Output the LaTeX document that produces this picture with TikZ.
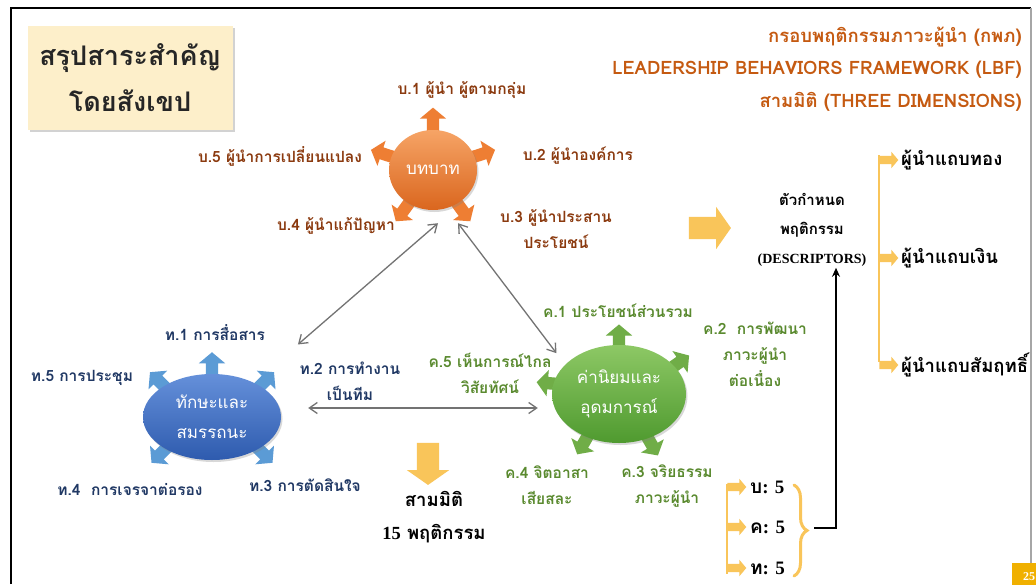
\documentclass[tikz,border=0pt]{standalone}
\usepackage{fontspec}
\setmainfont{Liberation Serif}
\newfontfamily\thai[Script=Thai]{Loma}
\newfontfamily\lat{Liberation Serif}
\usetikzlibrary{positioning,arrows.meta,shapes.geometric,shapes.arrows,shadows,backgrounds,calc,decorations.pathreplacing}
\definecolor{creamc}{HTML}{FDEFCA}
\definecolor{hdrc}{HTML}{C55A11}
\definecolor{orgT}{HTML}{F6A466}
\definecolor{orgB}{HTML}{DA661E}
\definecolor{orgS}{HTML}{EE7E33}
\definecolor{orgL}{HTML}{8B3A0F}
\definecolor{bluT}{HTML}{6590DA}
\definecolor{bluB}{HTML}{2E5BAE}
\definecolor{bluS}{HTML}{5B9BD5}
\definecolor{bluL}{HTML}{203864}
\definecolor{grnT}{HTML}{8DC865}
\definecolor{grnB}{HTML}{4F9A2F}
\definecolor{grnS}{HTML}{70AD47}
\definecolor{grnL}{HTML}{5A8A2F}
\definecolor{goldc}{HTML}{F9C55A}
\definecolor{pagec}{HTML}{F0B000}

\begin{document}
\begin{tikzpicture}[
  x=1pt, y=-1pt,
  font=\thai\bfseries,
  titlebox/.style={fill=creamc, align=center, minimum width=205pt, minimum height=104pt,
                   text=black!85, font=\thai\bfseries\fontsize{27}{46}\selectfont,
                   drop shadow={opacity=0.35, shadow xshift=2pt, shadow yshift=-2pt}},
  hdr/.style={anchor=east, text=hdrc, inner sep=0pt, font=\thai\bfseries\fontsize{18.5}{20}\selectfont},
  bubble/.style={ellipse, text=white, align=center, inner sep=0pt,
                 font=\thai\fontsize{17}{30}\selectfont,
                 drop shadow={opacity=0.3, shadow xshift=1.5pt, shadow yshift=-2pt}},
  spoke/.style={single arrow, single arrow head extend=7pt, single arrow tip angle=100,
                inner xsep=0pt, inner ysep=6pt, minimum height=30pt, anchor=tail},
  lbl/.style={align=center, inner sep=1pt, font=\thai\bfseries\fontsize{15.5}{26}\selectfont},
  link/.style={{Straight Barb[length=8pt,width=11pt]}-{Straight Barb[length=8pt,width=11pt]},
               draw=black!55, line width=1.3pt},
  goldarrow/.style={single arrow, fill=goldc, inner xsep=0pt, inner ysep=11pt,
                    single arrow head extend=10pt, single arrow tip angle=110, minimum height=42pt},
  tinyarrow/.style={single arrow, fill=goldc, inner xsep=0pt, inner ysep=4pt,
                    single arrow head extend=4pt, single arrow tip angle=100, minimum height=19pt},
  goldline/.style={draw=goldc, line width=2pt},
  blk/.style={text=black, inner sep=1pt, font=\thai\bfseries\fontsize{18.5}{29}\selectfont},
  cnt/.style={blk, anchor=west, font=\thai\bfseries\fontsize{19}{29}\selectfont},
  feed/.style={-{Stealth[length=9pt,width=8pt]}, draw=black, line width=1.6pt},
]
\useasboundingbox (0,0) rectangle (1036,584);
\begin{scope}[on background layer]
  \fill[white] (0,0) rectangle (1036,584);
\end{scope}

% ---- slide frame ----
\draw[black, line width=2.5pt] (11,584) -- (11,8) -- (1031,8);
\draw[black!35, line width=1.5pt] (1031,8) -- (1031,584);

% ---- title and header ----
\node[titlebox] (ttl) at (130,78) {สรุปสาระสำคัญ\\โดยสังเขป};
\node[hdr] (h1) at (1022,37)  {กรอบพฤติกรรมภาวะผู้นำ (กพภ)};
\node[hdr] (h2) at (1022,70)  {LEADERSHIP BEHAVIORS FRAMEWORK (LBF)};
\node[hdr] (h3) at (1022,102) {สามมิติ (THREE DIMENSIONS)};

% ---- three dimension bubbles ----
\node[bubble, minimum width=88pt, minimum height=80pt, top color=orgT, bottom color=orgB]
      (rl) at (433,170) {บทบาท};
\node[bubble, minimum width=138pt, minimum height=86pt, top color=bluT, bottom color=bluB]
      (sk) at (212,417) {ทักษะและ\\สมรรถนะ};
\node[bubble, minimum width=134pt, minimum height=98pt, top color=grnT, bottom color=grnB]
      (gv) at (619,394) {ค่านิยมและ\\อุดมการณ์};

\begin{scope}[on background layer]
  \foreach \a in {18,90,162,234,306}
    \node[spoke, fill=orgS, rotate=\a] at ($(rl.center)!0.8!(rl.\a)$) {};
  \foreach \a/\r in {90/90,150/135,30/45,212/225,328/315}
    \node[spoke, fill=bluS, rotate=\r] at ($(sk.center)!0.8!(sk.\a)$) {};
  \foreach \a/\r in {90/90,170/175,25/35,232/240,304/300}
    \node[spoke, fill=grnS, rotate=\r] at ($(gv.center)!0.8!(gv.\a)$) {};
\end{scope}

% ---- behaviour labels ----
\node[lbl, text=orgL] (b1) at (462,90)  {บ.1 ผู้นำ ผู้ตามกลุ่ม};
\node[lbl, text=orgL] (b5) at (280,156) {บ.5 ผู้นำการเปลี่ยนแปลง};
\node[lbl, text=orgL] (b2) at (578,156) {บ.2 ผู้นำองค์การ};
\node[lbl, text=orgL] (b4) at (336,226) {บ.4 ผู้นำแก้ปัญหา};
\node[lbl, text=orgL] (b3) at (556,229) {บ.3 ผู้นำประสาน\\ประโยชน์};

\node[lbl, text=bluL] (t1) at (215,333) {ท.1 การสื่อสาร};
\node[lbl, text=bluL] (t5) at (82,378)  {ท.5 การประชุม};
\node[lbl, text=bluL] (t2) at (350,381) {ท.2 การทำงาน\\เป็นทีม};
\node[lbl, text=bluL] (t4) at (130,490) {ท.4\ \ การเจรจาต่อรอง};
\node[lbl, text=bluL] (t3) at (305,485) {ท.3 การตัดสินใจ};

\node[lbl, text=grnL] (k1) at (618,311) {ค.1 ประโยชน์ส่วนรวม};
\node[lbl, text=grnL] (k2) at (755,354) {ค.2\ \ การพัฒนา\\ภาวะผู้นำ\\ต่อเนื่อง};
\node[lbl, text=grnL] (k5) at (490,373) {ค.5 เห็นการณ์ไกล\\วิสัยทัศน์};
\node[lbl, text=grnL] (k4) at (547,485) {ค.4 จิตอาสา\\เสียสละ};
\node[lbl, text=grnL] (k3) at (667,486) {ค.3 จริยธรรม\\ภาวะผู้นำ};

% ---- links between the dimensions ----
\draw[link] ([xshift=37pt,yshift=42pt]sk.north east) -- ([xshift=5pt,yshift=-13pt]rl.south);
\draw[link] ([xshift=25pt,yshift=-13pt]rl.south) -- ([xshift=-15pt,yshift=6pt]gv.north west);
\draw[link] ([xshift=27pt,yshift=9pt]sk.east) -- ([xshift=-14pt,yshift=-14pt]gv.west);

% ---- summary: three dimensions, 15 behaviours ----
\node[goldarrow, rotate=-90] (dn) at (428,460) {};
\node[blk, align=center, font=\thai\bfseries\fontsize{18.5}{33}\selectfont] (sum) at (434,517)
      {สามมิติ\\{\lat 15} พฤติกรรม};

% ---- descriptors and leader levels ----
\node[goldarrow, minimum width=40pt] (ra) at (706,228) {};
\node[blk, align=center, font=\thai\bfseries\fontsize{15}{29}\selectfont] (desc) at (812,230)
      {ตัวกำหนด\\พฤติกรรม\\{\lat\fontsize{14}{29}\selectfont (DESCRIPTORS)}};

\node[tinyarrow] (sa1) at (887,160) {};
\node[tinyarrow] (sa2) at (887,258) {};
\node[tinyarrow] (sa3) at (887,365) {};
\draw[goldline] ([yshift=5pt]sa1.tail) -- ([yshift=3pt]sa3.tail);
\node[blk, anchor=west] (lv1) at (900,160) {ผู้นำแถบทอง};
\node[blk, anchor=west] (lv2) at (900,258) {ผู้นำแถบเงิน};
\node[blk, anchor=west] (lv3) at (900,365) {ผู้นำแถบสัมฤทธิ์};

% ---- counts per dimension ----
\node[tinyarrow] (ca1) at (735,487) {};
\node[tinyarrow] (ca2) at (735,527) {};
\node[tinyarrow] (ca3) at (735,568) {};
\draw[goldline] ([yshift=3pt]ca1.tail) -- ([yshift=-6pt]ca3.tail);
\node[cnt] (n1) at (749,487) {บ{\lat : 5}};
\node[cnt] (n2) at (749,527) {ค{\lat : 5}};
\node[cnt] (n3) at (749,568) {ท{\lat : 5}};

\coordinate (brtop) at (794,485);
\coordinate (brbot) at (794,576);
\coordinate (brtip) at (814,528);
\draw[draw=goldc, line width=3pt, line cap=round, decorate,
      decoration={brace, amplitude=13pt}] (brtop) -- (brbot);
\draw[feed] (brtip) -| ([xshift=24pt]desc.south);

% ---- page number ----
\node[fill=pagec, text=white, inner sep=0pt, minimum width=34pt, minimum height=26pt,
      font=\lat\bfseries\fontsize{12}{12}\selectfont, anchor=north west] (pg) at (1012,563) {25};
\end{tikzpicture}
\end{document}
